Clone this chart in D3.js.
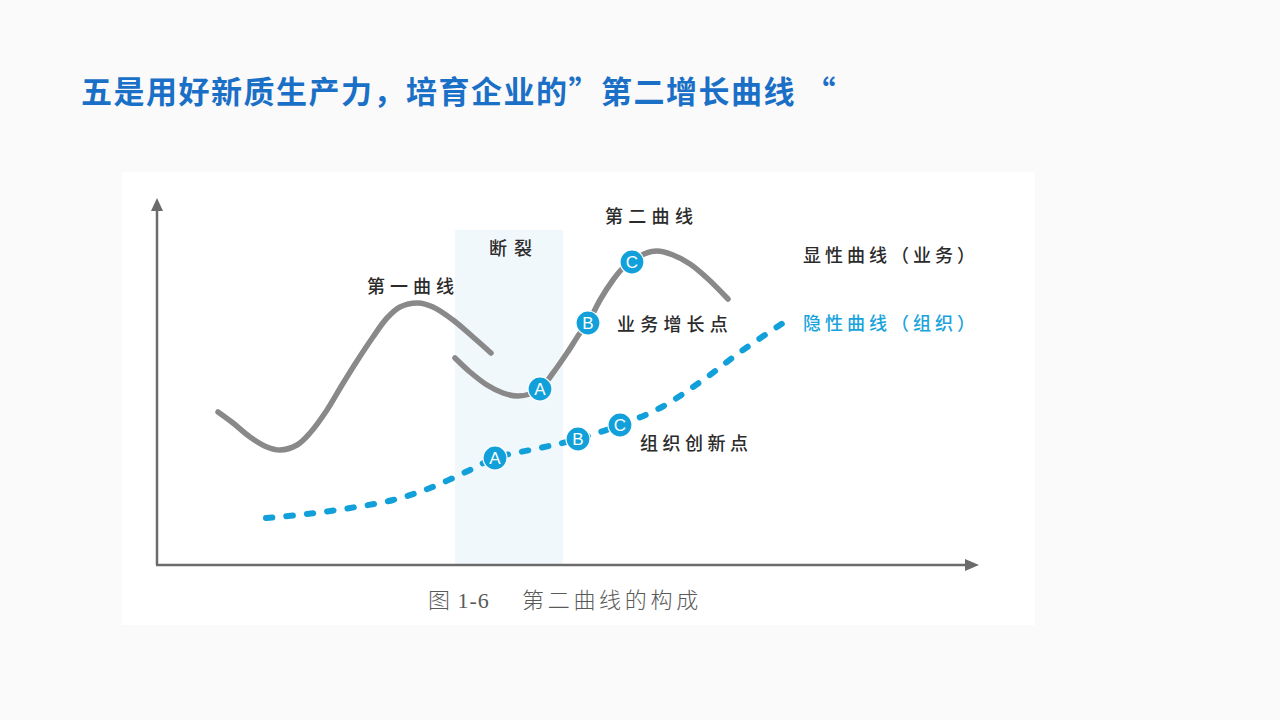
<!DOCTYPE html>
<html><head><meta charset="utf-8">
<script src="https://cdn.jsdelivr.net/npm/d3@7"></script>
<style>
html,body{margin:0;padding:0;background:#fafafa;}
svg{display:block;}
</style></head>
<body>
<svg id="chart" width="1280" height="720"></svg>
<script>
// ---- data (x: time units, y: performance units) ----
const titleText = "五是用好新质生产力，培育企业的”第二增长曲线 “";
const firstCurveX = [61, 76, 93, 110, 123, 140, 153, 170, 185, 200, 216, 230, 243, 261, 276, 296, 316, 334];
const firstCurveY = [153, 142, 128, 118, 115, 120, 132, 155, 180, 204, 228, 247, 258, 262, 258, 245, 228, 212];
const secondCurveX = [298, 313, 330, 346, 360, 373, 383, 396, 410, 423, 431, 443, 456, 466, 475, 487, 500, 516, 533, 550, 571];
const secondCurveY = [207, 193, 180, 172, 169, 171, 176, 192, 212, 232, 242, 265, 285, 297, 303, 311, 314, 310, 301, 287, 266];
const hiddenCurveX = [109, 150, 193, 236, 273, 313, 338, 383, 421, 463, 503, 546, 586, 626];
const hiddenCurveY = [47, 51, 57, 65, 77, 95, 107, 117, 126, 140, 157, 185, 215, 242];
const pointLabels = ["A", "B", "C"];
const bizPointIdx = [6, 10, 14];    // indices on second curve
const orgPointIdx = [6, 8, 9];      // indices on hidden curve
const breakRange = [298, 406];
const breakTop = 335;
const labels = ["第一曲线", "断裂", "第二曲线", "显性曲线（业务）", "隐性曲线（组织）", "业务增长点", "组织创新点"];
const captionParts = ["图 1-6", "第二曲线的构成"];

const svg = d3.select("#chart");

// panel
svg.append("rect").attr("x", 122).attr("y", 172).attr("width", 913).attr("height", 453).attr("fill", "#ffffff");

// title
svg.append("text").attr("x", 81).attr("y", 103)
  .attr("font-family", "'Noto Sans CJK SC', sans-serif").attr("font-weight", 700)
  .attr("font-size", 31).attr("letter-spacing", "1.5px").attr("fill", "#1a6fc6")
  .text(titleText);

const x = d3.scaleLinear().domain([0, 820]).range([157, 977]);
const y = d3.scaleLinear().domain([0, 370]).range([565, 195]);

// break band
svg.append("rect")
  .attr("x", x(breakRange[0])).attr("width", x(breakRange[1]) - x(breakRange[0]))
  .attr("y", y(breakTop)).attr("height", y(0) - y(breakTop))
  .attr("fill", "#f1f8fc");

// axes
const axisColor = "#6b6b6b";
svg.append("line").attr("x1", x(0)).attr("y1", y(0)).attr("x2", x(0)).attr("y2", y(358))
  .attr("stroke", axisColor).attr("stroke-width", 2.5);
svg.append("path").attr("d", `M${x(0)},${y(367)} L${x(0)-6},${y(354)} L${x(0)+6},${y(354)} Z`).attr("fill", axisColor);
svg.append("line").attr("x1", x(0)-1).attr("y1", y(0)).attr("x2", x(810)).attr("y2", y(0))
  .attr("stroke", axisColor).attr("stroke-width", 2.5);
svg.append("path").attr("d", `M${x(822)},${y(0)} L${x(808)},${y(0)-6} L${x(808)},${y(0)+6} Z`).attr("fill", axisColor);

const line = d3.line().x(d => x(d[0])).y(d => y(d[1])).curve(d3.curveCatmullRom.alpha(0.5));
const zip = (a, b) => a.map((v, i) => [v, b[i]]);

const grey = "#898989", blue = "#11a0d9";
svg.append("path").attr("d", line(zip(firstCurveX, firstCurveY)))
  .attr("fill", "none").attr("stroke", grey).attr("stroke-width", 5.5).attr("stroke-linecap", "round");
svg.append("path").attr("d", line(zip(secondCurveX, secondCurveY)))
  .attr("fill", "none").attr("stroke", grey).attr("stroke-width", 5.5).attr("stroke-linecap", "round");
svg.append("path").attr("d", line(zip(hiddenCurveX, hiddenCurveY)))
  .attr("fill", "none").attr("stroke", blue).attr("stroke-width", 6)
  .attr("stroke-linecap", "round").attr("stroke-dasharray", "6.5 14");

function markers(xs, ys, idx) {
  const g = svg.append("g");
  idx.forEach((k, i) => {
    const cx = x(xs[k]), cy = y(ys[k]);
    g.append("circle").attr("cx", cx).attr("cy", cy).attr("r", 12)
      .attr("fill", blue).attr("stroke", "#ffffff").attr("stroke-width", 1.2);
    g.append("text").attr("x", cx).attr("y", cy + 6).attr("text-anchor", "middle")
      .attr("font-family", "Arimo, 'Liberation Sans', sans-serif").attr("font-size", 17)
      .attr("fill", "#ffffff").text(pointLabels[i]);
  });
}
markers(secondCurveX, secondCurveY, bizPointIdx);
markers(hiddenCurveX, hiddenCurveY, orgPointIdx);

// labels
const lf = "'Noto Sans CJK SC', sans-serif";
function label(t, px, py, opts = {}) {
  svg.append("text").attr("x", px).attr("y", py)
    .attr("font-family", lf).attr("font-size", opts.size || 18)
    .attr("font-weight", opts.weight || 500)
    .attr("letter-spacing", opts.ls || "5px")
    .attr("fill", opts.fill || "#2b2b2b").text(t);
}
label(labels[0], 367, 293);
label(labels[1], 489, 255, {ls: "7px"});
label(labels[2], 605, 223, {ls: "5.3px"});
label(labels[3], 803, 262, {ls: "4px"});
label(labels[4], 803, 330, {ls: "4px", fill: "#19a3dc"});
label(labels[5], 617, 331, {ls: "5.2px"});
label(labels[6], 640, 450, {ls: "4.5px"});

// caption
const cap = svg.append("g").attr("font-family", "'Liberation Serif', 'Noto Sans CJK SC', serif")
  .attr("font-size", 22).attr("font-weight", 300).attr("fill", "#5a5a5a");
cap.append("text").attr("x", 428).attr("y", 608).attr("letter-spacing", "1px").text(captionParts[0]);
cap.append("text").attr("x", 522).attr("y", 608).attr("letter-spacing", "3.7px").text(captionParts[1]);
</script>
</body></html>
